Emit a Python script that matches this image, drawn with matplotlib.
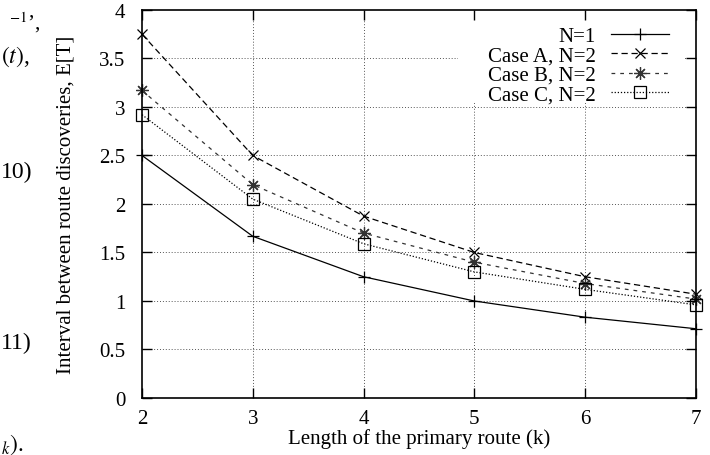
import matplotlib
matplotlib.use("Agg")
import matplotlib.pyplot as plt
from matplotlib.patches import Rectangle

# route length k and mean interval between route discoveries E[T]
route_length = [2, 3, 4, 5, 6, 7]
n1 = [2.50, 1.667, 1.25, 1.00, 0.833, 0.714]
case_a = [3.75, 2.50, 1.875, 1.50, 1.25, 1.07]
case_b = [3.17, 2.20, 1.70, 1.40, 1.18, 1.02]
case_c = [2.92, 2.05, 1.59, 1.30, 1.12, 0.96]

series_labels = ["N=1", "Case A, N=2", "Case B, N=2", "Case C, N=2"]
y_ticks = [0, 0.5, 1, 1.5, 2, 2.5, 3, 3.5, 4]
y_tick_labels = ["0", "0.5", "1", "1.5", "2", "2.5", "3", "3.5", "4"]

plt.rcParams["font.family"] = ["Liberation Serif", "DejaVu Serif"]
plt.rcParams["mathtext.fontset"] = "stix"

fig = plt.figure(figsize=(7.1, 4.56), dpi=100)
ax = fig.add_axes([0.2, 0.125, 0.780, 0.851])

styles = [
    dict(linestyle="-", marker="+", markersize=9, color="black"),
    dict(linestyle=(0, (5, 3)), marker="x", markersize=7, color="black"),
    dict(linestyle=(0, (3, 4)), marker=(8, 2, 0), markersize=9, color="#333333"),
    dict(linestyle=(0, (1, 1.5)), marker="s", markersize=8, color="black",
         markerfacecolor="none"),
]
for ys, label, st in zip([n1, case_a, case_b, case_c], series_labels, styles):
    ax.plot(route_length, ys, label=label, linewidth=0.9, markeredgewidth=0.9,
            zorder=2, clip_on=False, **st)

ax.set_xlim(2, 7)
ax.set_ylim(0, 4)
ax.set_xticks(route_length)
ax.set_yticks(y_ticks)
ax.set_yticklabels(y_tick_labels)
ax.tick_params(direction="in", top=True, right=True, length=7, width=1,
               labelsize=15, pad=8)
ax.tick_params(axis="y", pad=12)
# dotted grid drawn by hand so the opaque key can sit over it but under the ticks
grid_kw = dict(color="#555555", linestyle=(0, (1, 2)), linewidth=0.7, zorder=1)
for t in y_ticks[1:-1]:
    ax.axhline(t, **grid_kw)
for t in route_length[1:-1]:
    ax.axvline(t, **grid_kw)
ax.xaxis.set_zorder(3)
ax.yaxis.set_zorder(3)
for sp in ax.spines.values():
    sp.set_linewidth(1.2)
    sp.set_zorder(3)

ax.set_xlabel("Length of the primary route (k)", fontsize=15, labelpad=0)
ax.set_ylabel("Interval between route discoveries, E[T]", fontsize=15, labelpad=17)

# opaque key area (gnuplot style) blanking the grid behind the legend
ax.add_patch(Rectangle((0.57, 0.76), 0.41, 0.215, transform=ax.transAxes,
                       facecolor="white", edgecolor="none", zorder=2.3))
leg = ax.legend(loc="upper right", bbox_to_anchor=(0.957, 0.966), markerfirst=False,
                alignment="right", frameon=False, fontsize=15, handlelength=2.8,
                handletextpad=0.7, labelspacing=0.0, borderaxespad=0.0, borderpad=0.15)
leg.set_zorder(2.4)

# cut-off fragments of the surrounding paper text
fig.text(0.012, 0.935, r"$^{-1}$’,", fontsize=15)
fig.text(0.002, 0.862, r"$(t)$,", fontsize=17)
fig.text(0.002, 0.61, "10)", fontsize=17)
fig.text(0.002, 0.235, "11)", fontsize=17)
fig.text(0.002, 0.012, r"$_{k})$.", fontsize=17)

fig.savefig("out.png", dpi=100)
